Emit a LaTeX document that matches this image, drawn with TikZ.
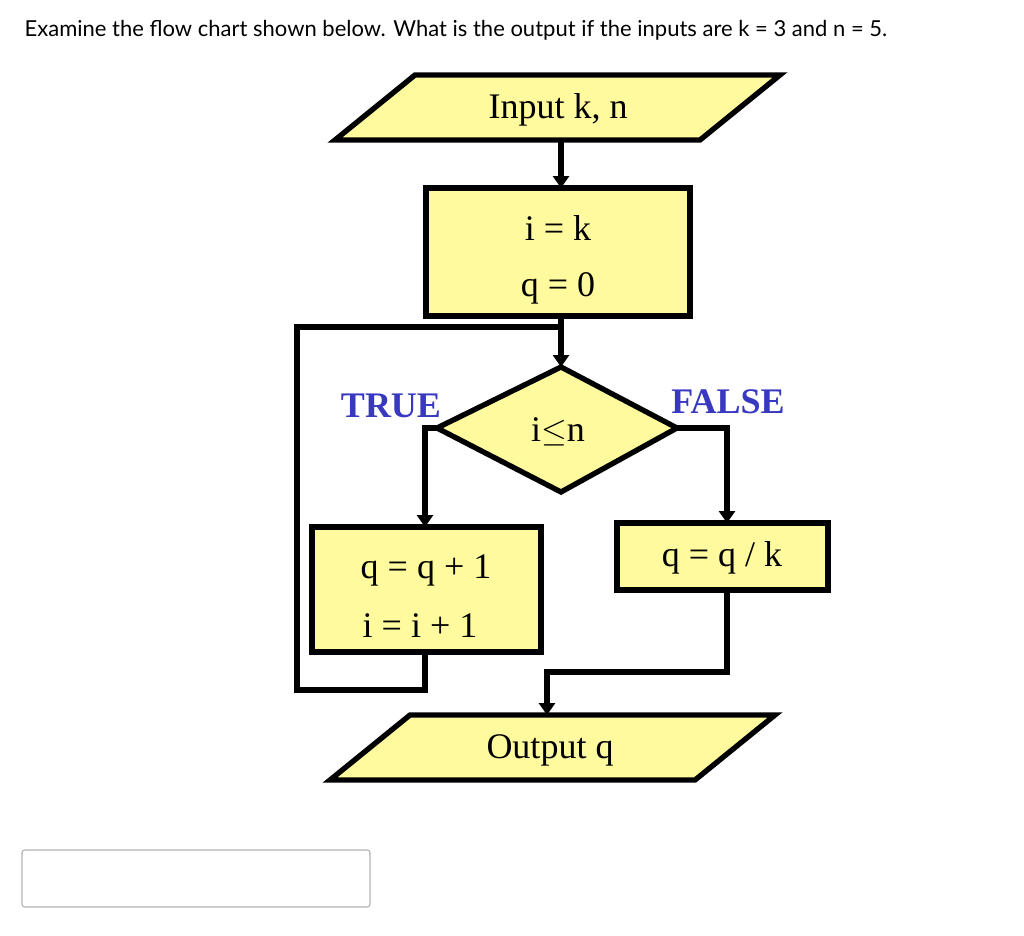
\documentclass[tikz,border=0pt]{standalone}
\usepackage{fontspec}
\setmainfont{Lato}
\newfontfamily\serif{Liberation Serif}
\usetikzlibrary{arrows.meta}
\definecolor{fillY}{HTML}{FFFA9E}
\definecolor{lblue}{HTML}{3838C0}
\begin{document}
\begin{tikzpicture}[x=0.75pt,y=-0.75pt,
  shp/.style={draw=black,line width=4pt,fill=fillY,line join=miter},
  conn/.style={draw=black,line width=4pt,-{Triangle[length=9pt,width=12pt]}},
  ln/.style={draw=black,line width=4pt},
  ser/.style={font=\serif\fontsize{27}{30}\selectfont},
  lbl/.style={font=\serif\bfseries\fontsize{27}{30}\selectfont,text=lblue}]
\useasboundingbox (0,0) rectangle (1024,935);
\node[anchor=west,font=\fontsize{16.5}{20}\selectfont] (title) at (20,30) {Examine the flow chart shown below. What is the output if the inputs are k = 3 and n = 5.};
% input
\draw[shp] (415,75) -- (780,75) -- (700,140) -- (335,140) -- cycle;
\node[ser] (inp) at (558,110) {Input k, n};
\coordinate (inb) at (561,140);
% init box
\draw[shp] (426,188) rectangle (690,316);
\coordinate (initT) at (561,188);
\coordinate (initB) at (561,316);
\node[ser] (i1) at (558,228) {i = k};
\node[ser] (i2) at (558,288) {q = 0};
\draw[conn] (inb) -- (initT);
% diamond
\draw[shp] (561,367) -- (677,428) -- (561,492) -- (437,428) -- cycle;
\coordinate (dT) at (561,367);
\coordinate (dL) at (437,428);
\coordinate (dR) at (677,428);
\node[ser] (cond) at (558,432) {i$\leq$n};
\draw[conn] (initB) -- (dT);
\node[lbl] (true) at (391,406) {TRUE};
\node[lbl] (false) at (728,402) {FALSE};
% true box
\draw[shp] (312,527) rectangle (541,652);
\node[ser] (t1) at (426,570) {q = q + 1};
\node[ser] (t2) at (420,626) {i = i + 1};
\coordinate (tT) at (425,527);
\coordinate (tB) at (425,652);
\draw[conn] (dL) -- (425,428) -- (tT);
% loop
\draw[ln,line join=miter] (tB) -- (425,690) -- (297,690) -- (297,327) -- (561,327);
% false box
\draw[shp] (617,523) rectangle (828,590);
\node[ser] (f1) at (722,558) {q = q / k};
\coordinate (fT) at (727,523);
\coordinate (fB) at (727,590);
\draw[conn] (dR) -- (727,428) -- (fT);
% output
\draw[shp] (410,715) -- (775,715) -- (695,780) -- (330,780) -- cycle;
\node[ser] (out) at (550,750) {Output q};
\coordinate (oT) at (547,715);
\draw[conn,line join=miter] (fB) -- (727,672) -- (547,672) -- (oT);
% answer box
\draw[draw=gray!60,line width=0.8pt,rounded corners=2pt] (22,850) rectangle (370,907);
\end{tikzpicture}
\end{document}
